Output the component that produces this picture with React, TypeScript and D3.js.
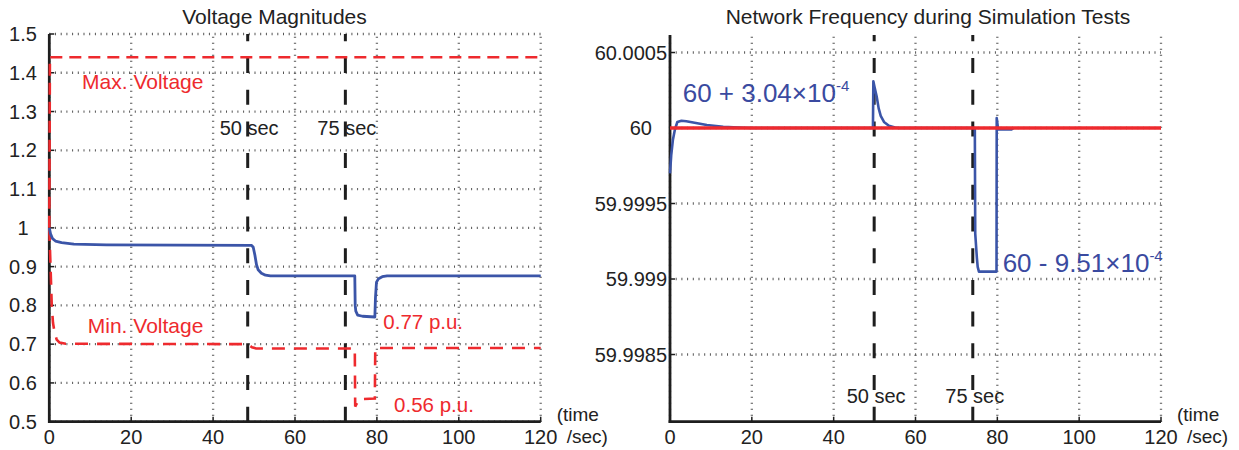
import React from 'react';
import * as d3 from 'd3';

// ---------- data ----------
const timeTicks = [0, 20, 40, 60, 80, 100, 120];
const timeTickLabels = ['0', '20', '40', '60', '80', '100', '120'];
const voltTicks = [0.5, 0.6, 0.7, 0.8, 0.9, 1.0, 1.1, 1.2, 1.3, 1.4, 1.5];
const voltTickLabels = ['0.5', '0.6', '0.7', '0.8', '0.9', '1', '1.1', '1.2', '1.3', '1.4', '1.5'];
const freqTicks = [59.9985, 59.999, 59.9995, 60, 60.0005];
const freqTickLabels = ['59.9985', '59.999', '59.9995', '60', '60.0005'];

// bus voltage (blue)
const busVoltT = [0, 0.3, 0.8, 1.5, 3, 6, 14, 49.4, 49.8, 50.2, 50.6, 51.0, 51.8, 52.8, 54, 74.6, 74.7, 74.85, 75.3, 76.5, 79.5, 79.65, 79.9, 80.4, 81.3, 82.5, 120];
const busVoltV = [1.0, 0.985, 0.972, 0.966, 0.962, 0.958, 0.956, 0.955, 0.95, 0.93, 0.905, 0.892, 0.883, 0.878, 0.876, 0.876, 0.8, 0.785, 0.775, 0.772, 0.77, 0.82, 0.86, 0.869, 0.874, 0.876, 0.876];

// max voltage (red dashed)
const maxVoltT = [0, 0.15, 120];
const maxVoltV = [1.0, 1.44, 1.44];

// min voltage (red dashed)
const minVoltT = [0, 0.3, 0.6, 0.9, 1.3, 1.8, 2.5, 4, 48.4, 48.8, 49.5, 50.5, 74.6, 74.7, 75.0, 75.4, 75.8, 79.5, 79.6, 120];
const minVoltV = [1.0, 0.9, 0.8, 0.755, 0.73, 0.712, 0.704, 0.701, 0.7, 0.697, 0.692, 0.689, 0.689, 0.539, 0.545, 0.553, 0.558, 0.56, 0.69, 0.69];

// network frequency (blue)
const freqT = [0, 0.3, 0.7, 1.2, 1.8, 2.8, 4, 6, 9, 13, 18, 20, 49.6, 49.7, 50.0, 50.5, 51.0, 51.5, 52.3, 53.5, 55, 56, 74.5, 74.6, 75.0, 75.2, 75.5, 79.8, 79.85, 80.2, 80.4, 83.4, 84];
const freqV = [59.9997, 59.99982, 59.99992, 59.99999, 60.00004, 60.000048, 60.000045, 60.000035, 60.00002, 60.000008, 60.000002, 60, 60, 60.000309, 60.00027, 60.00021, 60.00013, 60.00008, 60.00004, 60.000015, 60.000003, 60, 60, 59.9993, 59.99914, 59.99908, 59.999049, 59.999049, 60.000066, 59.99999, 59.99999, 59.99999, 60];

// nominal frequency (red)
const nominalT = [0, 120];
const nominalV = [60, 60];

// event markers
const voltEventTimes = [48.45, 72.3];
const freqEventTimes = [49.9, 74.0];
const eventLabels = ['50 sec', '75 sec'];

// ---------- style ----------
const FONT = '"Liberation Sans", Arial, Helvetica, sans-serif';
const RED = '#ee2a2e';
const BLUE = '#3b55a8';
const BLUE_TEXT = '#3a4aa0';
const AXIS = '#1e1e1e';
const GRID = '#555';

type Pt = [number, number];
const zip = (a: number[], b: number[]): Pt[] => a.map((v, i) => [v, b[i]]);

function Panel(props: {
  x: d3.ScaleLinear<number, number>;
  y: d3.ScaleLinear<number, number>;
  yTicks: number[];
  yLabels: string[];
  yLabelX: (lbl: string) => number;
  yLabelAnchor: string;
  eventTimes: number[];
}) {
  const { x, y, yTicks, yLabels, yLabelX, yLabelAnchor, eventTimes } = props;
  const [x0, x1] = x.range();
  const [yb, yt] = y.range();
  return (
    <g>
      {/* grid */}
      {timeTicks.map((t) => (
        <line key={'vg' + t} x1={x(t)} x2={x(t)} y1={yb} y2={yt} stroke={GRID} strokeWidth={2.3} strokeDasharray="1,5" />
      ))}
      {yTicks.map((v) => (
        <line key={'hg' + v} x1={x0} x2={x1} y1={y(v)} y2={y(v)} stroke={GRID} strokeWidth={2.3} strokeDasharray="1,4.7" />
      ))}
      {/* event lines */}
      {eventTimes.map((t) => (
        <line key={'ev' + t} x1={x(t)} x2={x(t)} y1={yb} y2={yt} stroke={AXIS} strokeWidth={3} strokeDasharray="15,16.7" />
      ))}
      {/* axes */}
      <line x1={x0} x2={x0} y1={yb + 1.3} y2={yt} stroke={AXIS} strokeWidth={2.8} />
      <line x1={x0 - 1.3} x2={x1} y1={yb} y2={yb} stroke={AXIS} strokeWidth={2.8} />
      {timeTicks.map((t) => (
        <line key={'xt' + t} x1={x(t)} x2={x(t)} y1={yb} y2={yb - 5} stroke={AXIS} strokeWidth={1.5} />
      ))}
      {yTicks.map((v) => (
        <line key={'yt' + v} x1={x0} x2={x0 + 5} y1={y(v)} y2={y(v)} stroke={AXIS} strokeWidth={1.5} />
      ))}
      {/* tick labels */}
      {timeTicks.map((t, i) => (
        <text key={'xl' + t} x={x(t)} y={yb + 22} textAnchor="middle" fontSize={20} fill="#222">
          {timeTickLabels[i]}
        </text>
      ))}
      {yTicks.map((v, i) => (
        <text key={'yl' + v} x={yLabelX(yLabels[i])} y={y(v) + 7} textAnchor={yLabelAnchor} fontSize={20} fill="#222">
          {yLabels[i]}
        </text>
      ))}
      <text x={x1 + 16} y={yb - 1} fontSize={19} fill="#222">(time</text>
      <text x={x1 + 26} y={yb + 21} fontSize={19} fill="#222">/sec)</text>
    </g>
  );
}

export default function App() {
  // left panel scales
  const xV = d3.scaleLinear().domain([0, 120]).range([49.3, 540.7]);
  const yV = d3.scaleLinear().domain([0.5, 1.5]).range([421.7, 34]);
  // right panel scales
  const xF = d3.scaleLinear().domain([0, 120]).range([670, 1161]);
  const yF = d3.scaleLinear().domain([59.998055, 60.000616]).range([421.7, 35]);

  const lineV = d3.line<Pt>().x((d) => xV(d[0])).y((d) => yV(d[1]));
  const lineF = d3.line<Pt>().x((d) => xF(d[0])).y((d) => yF(d[1]));

  return (
    <svg
      width={1239}
      height={450}
      style={{ position: 'absolute', left: 0, top: 0, background: '#fff' }}
      fontFamily={FONT}
    >
      <rect x={0} y={0} width={1239} height={450} fill="#fff" />
      {/* ---------- left: voltage ---------- */}
      <text x={274.5} y={24} textAnchor="middle" fontSize={21} fill="#222">Voltage Magnitudes</text>
      <Panel
        x={xV}
        y={yV}
        yTicks={voltTicks}
        yLabels={voltTickLabels}
        yLabelX={() => 23}
        yLabelAnchor="middle"
        eventTimes={voltEventTimes}
      />
      <path d={lineV(zip(maxVoltT, maxVoltV)) || ''} fill="none" stroke={RED} strokeWidth={2.6} strokeDasharray="12,7" />
      <path d={lineV(zip(minVoltT, minVoltV)) || ''} fill="none" stroke={RED} strokeWidth={2.6} strokeDasharray="13,9" />
      <path d={lineV(zip(busVoltT, busVoltV)) || ''} fill="none" stroke={BLUE} strokeWidth={2.8} strokeLinejoin="round" />
      {eventLabels.map((lbl, i) => (
        <text key={'vl' + i} x={xV(voltEventTimes[i]) - 28} y={yV(1.239)} fontSize={20} fill="#222">
          {lbl}
        </text>
      ))}
      <text x={xV(8)} y={yV(1.357)} fontSize={21} fill={RED}>Max. Voltage</text>
      <text x={xV(9.4)} y={yV(0.728)} fontSize={21} fill={RED}>Min. Voltage</text>
      <text x={xV(81.56)} y={yV(0.738)} fontSize={20.5} fill={RED}>0.77 p.u.</text>
      <text x={xV(84.2)} y={yV(0.526)} fontSize={20.5} fill={RED}>0.56 p.u.</text>

      {/* ---------- right: frequency ---------- */}
      <text x={928} y={24} textAnchor="middle" fontSize={21} fill="#222">Network Frequency during Simulation Tests</text>
      <Panel
        x={xF}
        y={yF}
        yTicks={freqTicks}
        yLabels={freqTickLabels}
        yLabelX={(l) => (l === '60' ? 652 : 667)}
        yLabelAnchor="end"
        eventTimes={freqEventTimes}
      />
      <path d={lineF(zip(freqT, freqV)) || ''} fill="none" stroke={BLUE} strokeWidth={2.6} strokeLinejoin="round" />
      <path d={lineF(zip(nominalT, nominalV)) || ''} fill="none" stroke={RED} strokeWidth={3.5} />
      {eventLabels.map((lbl, i) => (
        <text key={'fl' + i} x={xF(freqEventTimes[i]) - 27.5} y={yF(59.998177)} fontSize={20} fill="#222">
          {lbl}
        </text>
      ))}
      <text x={xF(3.1)} y={yF(60.000174)} fontSize={26} fill={BLUE_TEXT}>
        60 + 3.04×10<tspan dy={-11} fontSize={15}>-4</tspan>
      </text>
      <text x={xF(81.3)} y={yF(59.999048)} fontSize={26} fill={BLUE_TEXT}>
        60 - 9.51×10<tspan dy={-11} fontSize={15}>-4</tspan>
      </text>
    </svg>
  );
}
